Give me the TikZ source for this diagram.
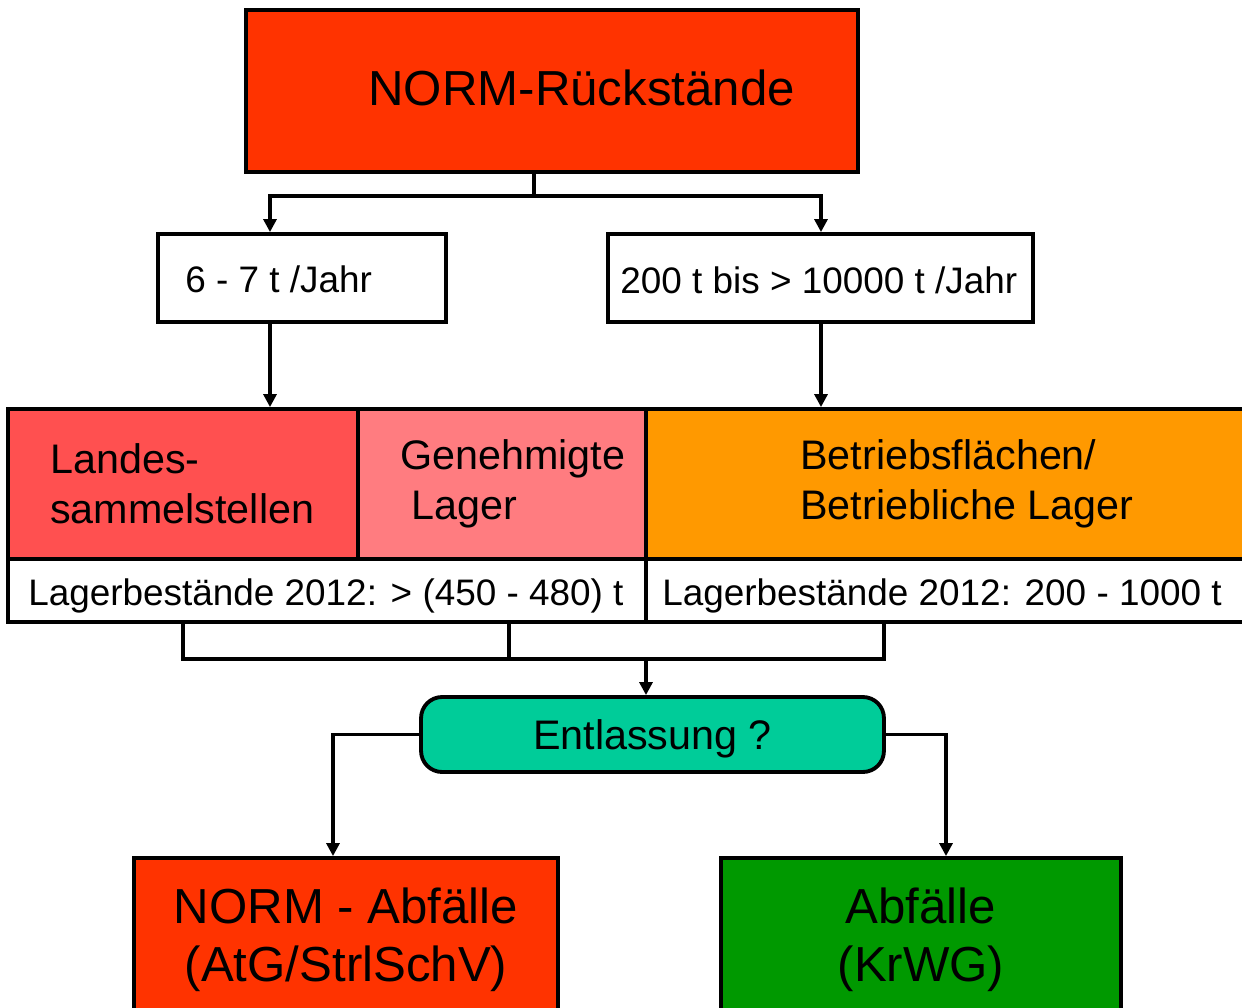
\documentclass[tikz,border=0pt]{standalone}
\usepackage{fontspec}
\setmainfont{Liberation Sans}
\usetikzlibrary{arrows.meta}

\definecolor{normred}{HTML}{FF3300}
\definecolor{landesred}{HTML}{FF5050}
\definecolor{lagerrose}{HTML}{FF7C80}
\definecolor{betriebsorange}{HTML}{FF9900}
\definecolor{entlgreen}{HTML}{00CC99}
\definecolor{abfgreen}{HTML}{009900}

\begin{document}
\begin{tikzpicture}[x=0.02cm, y=-0.02cm,
	box/.style={draw, line width=2.2pt, inner sep=0pt},
	conn/.style={line width=1.8pt},
	arr/.style={conn, -{Triangle[length=2.6mm, width=2.6mm]}},
	lbl/.style={inner sep=0pt, font=\fontsize{21pt}{25pt}\selectfont},
	mid/.style={inner sep=0pt, align=left, font=\fontsize{23.5pt}{28.5pt}\selectfont},
	big/.style={inner sep=0pt, align=center, font=\fontsize{28pt}{33pt}\selectfont}]
	\useasboundingbox (0, 0) rectangle (1242, 1008);
	\clip (0, 0) rectangle (1242, 1008);

	\node [box, fill=normred, minimum width=12.24cm, minimum height=3.24cm] (top) at (552, 91) {};
	\node [big, anchor=base west] (toptxt) at (368, 105) {NORM-Rückstände};

	\node [box, fill=white, minimum width=5.76cm, minimum height=1.76cm] (small) at (302, 278) {};
	\node [lbl, anchor=base west] (smalltxt) at (185, 292) {6 - 7 t /Jahr};
	\node [box, fill=white, minimum width=8.5cm, minimum height=1.76cm] (large) at (820.5, 278) {};
	\node [lbl, anchor=base west] (largetxt) at (620, 293) {200 t bis > 10000 t /Jahr};

	\node [box, fill=landesred, minimum width=7cm, minimum height=3cm] (landes) at (183, 484) {};
	\node [box, fill=lagerrose, minimum width=5.76cm, minimum height=3cm] (genehm) at (502, 484) {};
	\node [box, fill=betriebsorange, minimum width=12.28cm, minimum height=3cm] (betrieb) at (953, 484) {};
	\node [mid, anchor=west] (landestxt) at (50, 484) {Landes-\\sammelstellen};
	\node [mid, anchor=west] (genehmtxt) at (400, 484) {Genehmigte\\\hspace*{0.28em}Lager};
	\node [mid, anchor=west] (betriebtxt) at (800, 484) {Betriebsflächen/\\Betriebliche Lager};

	\node [box, fill=white, minimum width=12.76cm, minimum height=1.26cm] (lagl) at (327, 590.5) {};
	\node [box, fill=white, minimum width=12.28cm, minimum height=1.26cm] (lagr) at (953, 590.5) {};
	\node [lbl, anchor=base west] (lagltxt) at (28, 605) {Lagerbestände 2012: > (450 - 480) t};
	\node [lbl, anchor=base west] (lagrtxt) at (662, 605) {Lagerbestände 2012: 200 - 1000 t};

	\node [box, fill=entlgreen, rounded corners=12pt, minimum width=9.26cm, minimum height=1.5cm,
		text depth=0pt, font=\fontsize{23.5pt}{28.5pt}\selectfont] (entl) at (652.5, 734.5) {Entlassung ?};

	\node [box, fill=normred, minimum width=8.48cm, minimum height=3.44cm] (normabf) at (346, 944) {};
	\node [big] (normabftxt) at (346, 940) {NORM - Abfälle\\(AtG/StrlSchV)};
	\node [box, fill=abfgreen, minimum width=8cm, minimum height=3.44cm] (abf) at (921, 944) {};
	\node [big] (abftxt) at (921, 940) {Abfälle\\(KrWG)};

	\coordinate (fork) at (534, 196);
	\coordinate (xl) at (270, 0);
	\coordinate (xr) at (821, 0);
	\draw [conn] (fork |- top.south) -- (fork);
	\draw [arr] (fork) -| (xl |- small.north);
	\draw [arr] (fork) -| (xr |- large.north);
	\draw [arr] (xl |- small.south) -- (xl |- landes.north);
	\draw [arr] (xr |- large.south) -- (xr |- betrieb.north);

	\coordinate (b1) at (183, 659);
	\coordinate (b2) at (509, 659);
	\coordinate (b3) at (884, 659);
	\coordinate (xm) at (646, 0);
	\draw [conn] (b1 |- lagl.south) -- (b1) -- (b3) -- (b3 |- lagr.south);
	\draw [conn] (b2 |- lagl.south) -- (b2);
	\draw [arr] (xm |- b1) -- (xm |- entl.north);

	\coordinate (xa) at (333, 0);
	\coordinate (xb) at (946, 0);
	\draw [arr] (entl.west) -| (xa |- normabf.north);
	\draw [arr] (entl.east) -| (xb |- abf.north);
\end{tikzpicture}
\end{document}
